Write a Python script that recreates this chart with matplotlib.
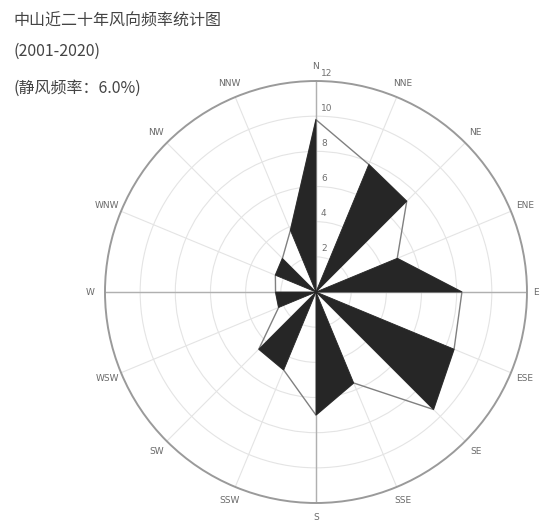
import numpy as np
import matplotlib
matplotlib.use("Agg")
import matplotlib.pyplot as plt
from matplotlib.transforms import offset_copy

plt.rcParams['font.family'] = ['Noto Sans CJK SC', 'DejaVu Sans']

# ---- data ----
directions = ["N", "NNE", "NE", "ENE", "E", "ESE", "SE", "SSE",
              "S", "SSW", "SW", "WSW", "W", "WNW", "NW", "NNW"]
frequency = [9.8, 7.85, 7.3, 5.0, 8.3, 8.5, 9.45, 5.6,
             7.0, 4.8, 4.6, 2.3, 2.3, 2.5, 2.7, 3.8]
ring_values = [2, 4, 6, 8, 10, 12]
title_lines = ["中山近二十年风向频率统计图", "(2001-2020)", "(静风频率：6.0%)"]

r_max = 12
n = len(directions)
theta = np.deg2rad(np.arange(n) * 360.0 / n)

fig = plt.figure(figsize=(5.42, 5.22), dpi=100)
ax = fig.add_axes([0.1937, 0.0364, 0.7786, 0.8084], projection='polar')
ax.set_theta_zero_location('N')
ax.set_theta_direction(-1)
ax.set_ylim(0, r_max)

# grid
ax.set_xticks(theta)
ax.set_xticklabels([])
ax.set_yticks(ring_values[:-1])
ax.set_yticklabels([])
ax.grid(True, color='#e4e4e4', lw=0.8)
ax.spines['polar'].set_color('#9a9a9a')
ax.spines['polar'].set_linewidth(1.4)

# main axes (N-S, E-W)
for k in (0, 4, 8, 12):
    ax.plot([theta[k], theta[k]], [0, r_max], color='#b0b0b0', lw=1.0, zorder=2)

# outline connecting the tips
th_closed = np.append(theta, theta[0])
fr_closed = np.append(frequency, frequency[0])
ax.plot(th_closed, fr_closed, color='#808080', lw=1.0, zorder=3)

# black half-petals (between odd direction and following even direction)
for i in range(1, n, 2):
    j = (i + 1) % n
    ax.fill([0, theta[i], theta[j], 0], [0, frequency[i], frequency[j], 0],
            color='#262626', lw=0.6, edgecolor='#262626', zorder=4)

# direction labels
for t, name in zip(theta, directions):
    rr = 12.5 if name == "E" else 12.85
    ax.text(t, rr, name, ha='center', va='center', fontsize=6.5,
            color='#6a6a6a', family='DejaVu Sans', clip_on=False)

# radial labels
trans = offset_copy(ax.transData, fig=fig, x=5, y=0, units='dots')
for rv in ring_values:
    ax.text(0, rv + 0.45, str(rv), transform=trans, ha='left', va='center',
            fontsize=6.5, color='#707070', family='DejaVu Sans', clip_on=False)

# titles
fig.text(0.024, 1 - 21.5 / 522, title_lines[0], fontsize=11.5, color='#444444',
         ha='left', va='center')
fig.text(0.024, 1 - 51.5 / 522, title_lines[1], fontsize=11.5, color='#444444',
         ha='left', va='center')
fig.text(0.024, 1 - 88 / 522, title_lines[2], fontsize=11.5, color='#444444',
         ha='left', va='center')

fig.savefig("out.png", dpi=100)
